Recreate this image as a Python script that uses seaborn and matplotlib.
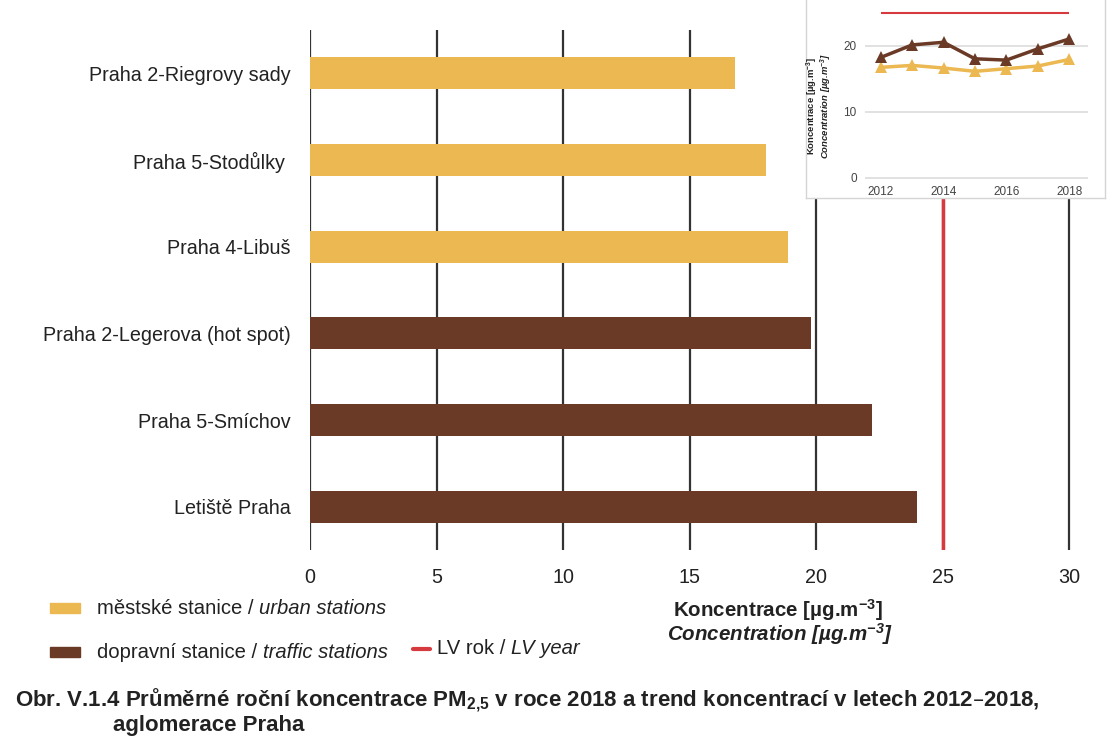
import numpy as np
import pandas as pd
import matplotlib.pyplot as plt
from matplotlib.patches import Rectangle
from matplotlib.lines import Line2D
import seaborn as sns

#Annual mean PM2.5 in 2018 per station
stations = ['Praha 2-Riegrovy sady', 'Praha 5-Stodůlky ', 'Praha 4-Libuš',
            'Praha 2-Legerova (hot spot)', 'Praha 5-Smíchov', 'Letiště Praha']
pm25_2018 = [16.8, 18.0, 18.9, 19.8, 22.2, 24.0]
station_type = ['urban', 'urban', 'urban', 'traffic', 'traffic', 'traffic']

#Trend 2012-2018 (inset)
years = [2012, 2013, 2014, 2015, 2016, 2017, 2018]
urban_trend = [16.7, 17.0, 16.6, 16.1, 16.5, 16.9, 17.9]
traffic_trend = [18.2, 20.1, 20.5, 18.0, 17.8, 19.5, 21.0]

#Limit value
lv_year = 25

PALETTE = {'urban': '#EBB851', 'traffic': '#6B3A26'}
RED = '#D63A3F'
TXT = '#222222'

sns.set_style('white')
plt.rcParams['font.family'] = ['Liberation Sans', 'DejaVu Sans']
plt.rcParams['mathtext.default'] = 'regular'

W, H = 1110, 742

def fx(x):
    return x / W

def fy(y):
    return 1 - y / H

df = pd.DataFrame({'station': stations, 'value': pm25_2018, 'type': station_type})

fig = plt.figure(figsize=(11.1, 7.42), dpi=100)

#Main bar chart
ax = fig.add_axes([fx(310), fy(550), fx(1082) - fx(310), fy(30) - fy(550)])
sns.barplot(data=df, x='value', y='station', hue='type', palette=PALETTE,
            width=0.37, saturation=1, linewidth=0, legend=False, ax=ax)
ax.set_xlim(0, 30.5)
ax.set_xticks(range(0, 31, 5))
ax.grid(axis='x', color='#333333', lw=1.6)
ax.set_axisbelow(True)
ax.axvline(lv_year, color=RED, lw=2.5, zorder=3)
sns.despine(ax=ax, left=True, bottom=True)
ax.set_xlabel('')
ax.set_ylabel('')
ax.tick_params(axis='y', length=0, pad=14, labelsize=14.2, labelcolor=TXT)
ax.tick_params(axis='x', length=0, pad=13, labelsize=14.2, labelcolor=TXT)

#Axis title under the chart
fig.text(fx(778), fy(610), 'Koncentrace [µg.m$^{-3}$]', fontsize=14.8, fontweight='bold',
         ha='center', va='center', color=TXT)
fig.text(fx(780), fy(634), 'Concentration [µg.m$^{-3}$]', fontsize=14.8, fontweight='bold',
         fontstyle='italic', ha='center', va='center', color=TXT)

#Legend
fig.add_artist(Rectangle((fx(50), fy(613)), fx(30), fy(603) - fy(613),
                         transform=fig.transFigure, color=PALETTE['urban']))
fig.add_artist(Rectangle((fx(50), fy(657)), fx(30), fy(647) - fy(657),
                         transform=fig.transFigure, color=PALETTE['traffic']))
fig.add_artist(Line2D([fx(413), fx(430)], [fy(649), fy(649)], transform=fig.transFigure,
                      color=RED, lw=3))

t1 = fig.text(fx(97), fy(608), 'městské stanice / ', fontsize=14.6, va='center', color=TXT)
ax.annotate('urban stations', xy=(1, 0), xycoords=t1, va='bottom', fontsize=14.6,
            fontstyle='italic', color=TXT)
t2 = fig.text(fx(97), fy(652), 'dopravní stanice / ', fontsize=14.6, va='center', color=TXT)
ax.annotate('traffic stations', xy=(1, 0), xycoords=t2, va='bottom', fontsize=14.6,
            fontstyle='italic', color=TXT)
t3 = fig.text(fx(437), fy(649), 'LV rok / ', fontsize=14.6, va='center', color=TXT)
ax.annotate('LV year', xy=(1, 0), xycoords=t3, va='bottom', fontsize=14.6,
            fontstyle='italic', color=TXT)

#Caption
fig.text(fx(15), fy(706), 'Obr. V.1.4 Průměrné roční koncentrace PM$_{2{,}5}$ v roce 2018 '
         'a trend koncentrací v letech 2012–2018,', fontsize=16, fontweight='bold',
         va='baseline', color=TXT)
fig.text(fx(113), fy(731), 'aglomerace Praha', fontsize=16, fontweight='bold',
         va='baseline', color=TXT)

#Inset panel
box = fig.add_axes([fx(806), fy(198), fx(1105) - fx(806), fy(-5) - fy(198)])
box.set_xticks([])
box.set_yticks([])
box.set_facecolor('white')
for s in box.spines.values():
    s.set_color('#d5d5d5')
    s.set_linewidth(1)

trend = pd.DataFrame({'year': years * 2,
                      'value': urban_trend + traffic_trend,
                      'type': ['urban'] * len(years) + ['traffic'] * len(years)})

ax2 = fig.add_axes([fx(865), fy(180), fx(1088) - fx(865), fy(0) - fy(180)])
ax2.patch.set_alpha(0)
sns.lineplot(data=trend, x='year', y='value', hue='type', palette=PALETTE, marker='^',
             markersize=9, markeredgewidth=0, lw=2.5, legend=False, ax=ax2)
ax2.hlines(lv_year, years[0], years[-1], color=RED, lw=1.5)
ax2.set_xlim(2011.5, 2018.6)
ax2.set_ylim(-0.35, 26.9)
ax2.set_yticks([0, 10, 20])
ax2.set_xticks([2012, 2014, 2016, 2018])
ax2.grid(axis='y', color='#dcdcdc', lw=1.2)
ax2.set_axisbelow(True)
sns.despine(ax=ax2, left=True, bottom=True)
ax2.set_xlabel('')
ax2.set_ylabel('')
ax2.tick_params(axis='y', length=0, pad=6, labelsize=8.5, labelcolor='#444444')
ax2.tick_params(axis='x', length=0, pad=4, labelsize=8.5, labelcolor='#444444')

fig.text(fx(812), fy(106), 'Koncentrace [µg.m$^{-3}$]', fontsize=6.8, fontweight='bold',
         rotation=90, ha='center', va='center', color=TXT)
fig.text(fx(826.5), fy(106), 'Concentration [µg.m$^{-3}$]', fontsize=6.8, fontweight='bold',
         fontstyle='italic', rotation=90, ha='center', va='center', color=TXT)

plt.savefig('out.png', dpi=100)
